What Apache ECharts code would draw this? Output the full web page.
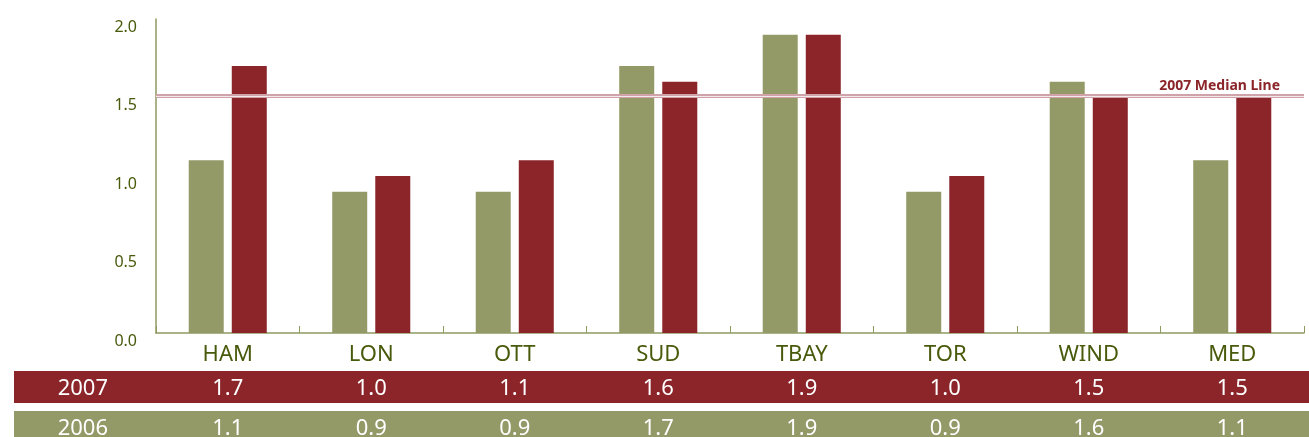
<!DOCTYPE html>
<html>
<head>
<meta charset="utf-8">
<script src="https://cdn.jsdelivr.net/npm/echarts@6/dist/echarts.min.js"></script>
<style>
  body { margin: 0; background: #fff; }
  #chart { width: 1309px; height: 437px; }
</style>
</head>
<body>
<div id="chart"></div>
<script>
// chart data
const categories = ['HAM', 'LON', 'OTT', 'SUD', 'TBAY', 'TOR', 'WIND', 'MED'];
const seriesNames = ['2006', '2007'];
const values2006 = [1.1, 0.9, 0.9, 1.7, 1.9, 0.9, 1.6, 1.1];
const values2007 = [1.7, 1.0, 1.1, 1.6, 1.9, 1.0, 1.5, 1.5];
const median2007 = 1.51;
const yTicks = [0, 0.5, 1.0, 1.5, 2.0];

const red = '#8b2529';
const green = '#939a67';
const olive = '#485a0c';
const axisCol = '#8e9a60';
const font = 'Noto Sans';

const chart = echarts.init(document.getElementById('chart'));

// extra x axis used as a table row under the chart
function tableAxis(name, values, offset) {
  return {
    type: 'category',
    gridIndex: 0,
    position: 'bottom',
    offset: offset,
    data: categories,
    name: name,
    nameLocation: 'start',
    nameGap: 48,
    nameTextStyle: { color: '#fff', fontSize: 22, fontFamily: font, align: 'right', verticalAlign: 'middle' },
    axisLine: { show: false },
    axisTick: { show: false },
    axisLabel: {
      color: '#fff', fontSize: 22, fontFamily: font, margin: 0, verticalAlign: 'middle',
      formatter: (v, i) => values[i].toFixed(1)
    }
  };
}

chart.setOption({
  animation: false,
  grid: { left: 156, right: 5, top: 19, bottom: 104, containLabel: false, outerBoundsMode: 'none' },
  graphic: [
    { type: 'rect', z: -10, shape: { x: 14, y: 371, width: 1300, height: 32 }, style: { fill: red } },
    { type: 'rect', z: -10, shape: { x: 14, y: 411, width: 1300, height: 30 }, style: { fill: green } }
  ],
  xAxis: [
    {
      type: 'category',
      data: categories,
      axisLine: { lineStyle: { color: axisCol, width: 1.5 } },
      axisTick: { show: true, inside: true, length: 7, lineStyle: { color: axisCol } },
      axisLabel: { color: olive, fontSize: 22, fontFamily: font, margin: 11 }
    },
    tableAxis(seriesNames[1], values2007, 56),
    tableAxis(seriesNames[0], values2006, 96)
  ],
  yAxis: {
    type: 'value',
    min: yTicks[0],
    max: yTicks[yTicks.length - 1],
    interval: 0.5,
    axisLine: { show: true, lineStyle: { color: axisCol, width: 1.5 } },
    axisTick: { show: false },
    splitLine: { show: false },
    axisLabel: {
      color: olive, fontSize: 16, fontFamily: font, margin: 19,
      verticalAlign: 'top', lineHeight: 16,
      formatter: v => v.toFixed(1)
    }
  },
  series: [
    {
      name: seriesNames[0],
      type: 'bar',
      data: values2006,
      barWidth: 35,
      barGap: '23%',
      itemStyle: { color: green }
    },
    {
      name: seriesNames[1],
      type: 'bar',
      data: values2007,
      barWidth: 35,
      barGap: '23%',
      itemStyle: { color: red },
      markLine: {
        silent: true,
        symbol: 'none',
        z: 10,
        data: [
          {
            yAxis: median2007,
            lineStyle: { color: '#cfa3a9', width: 4, type: 'solid' },
            label: {
              show: true, position: 'insideEndTop', distance: [24, 3],
              formatter: '2007 Median Line',
              color: red, fontSize: 14, fontWeight: 'bold', fontFamily: font
            }
          },
          {
            yAxis: median2007,
            lineStyle: { color: '#f3e8ea', width: 1, type: 'solid' },
            label: { show: false }
          }
        ]
      }
    }
  ]
});
</script>
</body>
</html>
